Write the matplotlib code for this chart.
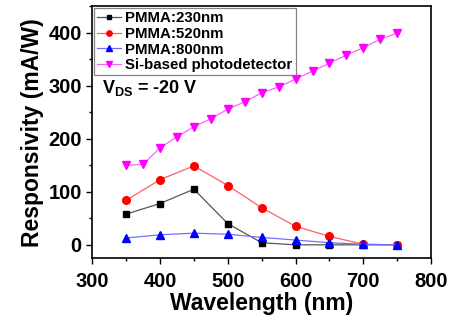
import matplotlib
matplotlib.use("Agg")
import matplotlib.pyplot as plt
from matplotlib.ticker import MultipleLocator

plt.rcParams["font.family"] = ["Liberation Sans", "DejaVu Sans"]
plt.rcParams["font.weight"] = "bold"
plt.rcParams["mathtext.fontset"] = "custom"
plt.rcParams["mathtext.rm"] = "Liberation Sans:bold"
plt.rcParams["mathtext.bf"] = "Liberation Sans:bold"

wl = [350, 400, 450, 500, 550, 600, 650, 700, 750]
pmma230 = [58, 78, 105, 40, 4, 0, 0, 0, 0]
pmma520 = [84, 123, 149, 112, 70, 35, 16, 1, 0]
pmma800 = [13, 19, 22, 20, 14, 9, 4, 1, 0]

wl_si = [350, 375, 400, 425, 450, 475, 500, 525, 550, 575, 600, 625, 650, 675, 700, 725, 750]
si = [150, 152, 183, 204, 223, 238, 256, 270, 287, 298, 313, 328, 343, 358, 372, 388, 400]

fig = plt.figure(figsize=(4.5, 3.23), dpi=100)
ax = fig.add_axes([0.205, 0.201, 0.753, 0.779])

ax.plot(wl, pmma230, color="#555555", lw=0.9, marker="s", ms=5, mfc="black", mec="black", label="PMMA:230nm")
ax.plot(wl, pmma520, color="#ff6060", lw=0.9, marker="o", ms=5.5, mfc="red", mec="red", label="PMMA:520nm")
ax.plot(wl, pmma800, color="#7070ff", lw=0.9, marker="^", ms=5.5, mfc="blue", mec="blue", label="PMMA:800nm")
ax.plot(wl_si, si, color="#ff60ff", lw=0.9, marker="v", ms=5.5, mfc="magenta", mec="magenta", label="Si-based photodetector")

ax.set_xlim(300, 800)
ax.set_ylim(-25, 450)
ax.xaxis.set_major_locator(MultipleLocator(100))
ax.xaxis.set_minor_locator(MultipleLocator(50))
ax.yaxis.set_major_locator(MultipleLocator(100))
ax.yaxis.set_minor_locator(MultipleLocator(50))
ax.tick_params(which="major", direction="out", length=4, width=1, labelsize=14.5)
ax.tick_params(axis="x", which="major", pad=6)
ax.tick_params(which="minor", direction="out", length=2.5, width=1)
for s in ax.spines.values():
    s.set_linewidth(1.2)

ax.set_xlabel("Wavelength (nm)", fontsize=16.5, fontweight="bold", labelpad=1)
ax.set_ylabel("Responsivity (mA/W)", fontsize=16.5, fontweight="bold", labelpad=3)

leg = ax.legend(loc="upper left", fontsize=10.8, frameon=True, fancybox=False,
                borderaxespad=0.1, handlelength=1.6, handletextpad=0.3,
                labelspacing=0.12, borderpad=0.2, markerscale=0.7)
leg.get_frame().set_edgecolor("#666666")
leg.get_frame().set_linewidth(0.9)

ax.text(0.03, 0.675, r"$\mathbf{V_{DS}}$ = -20 V", transform=ax.transAxes,
        fontsize=13, fontweight="bold", va="center")

fig.savefig("out.png", dpi=100)
